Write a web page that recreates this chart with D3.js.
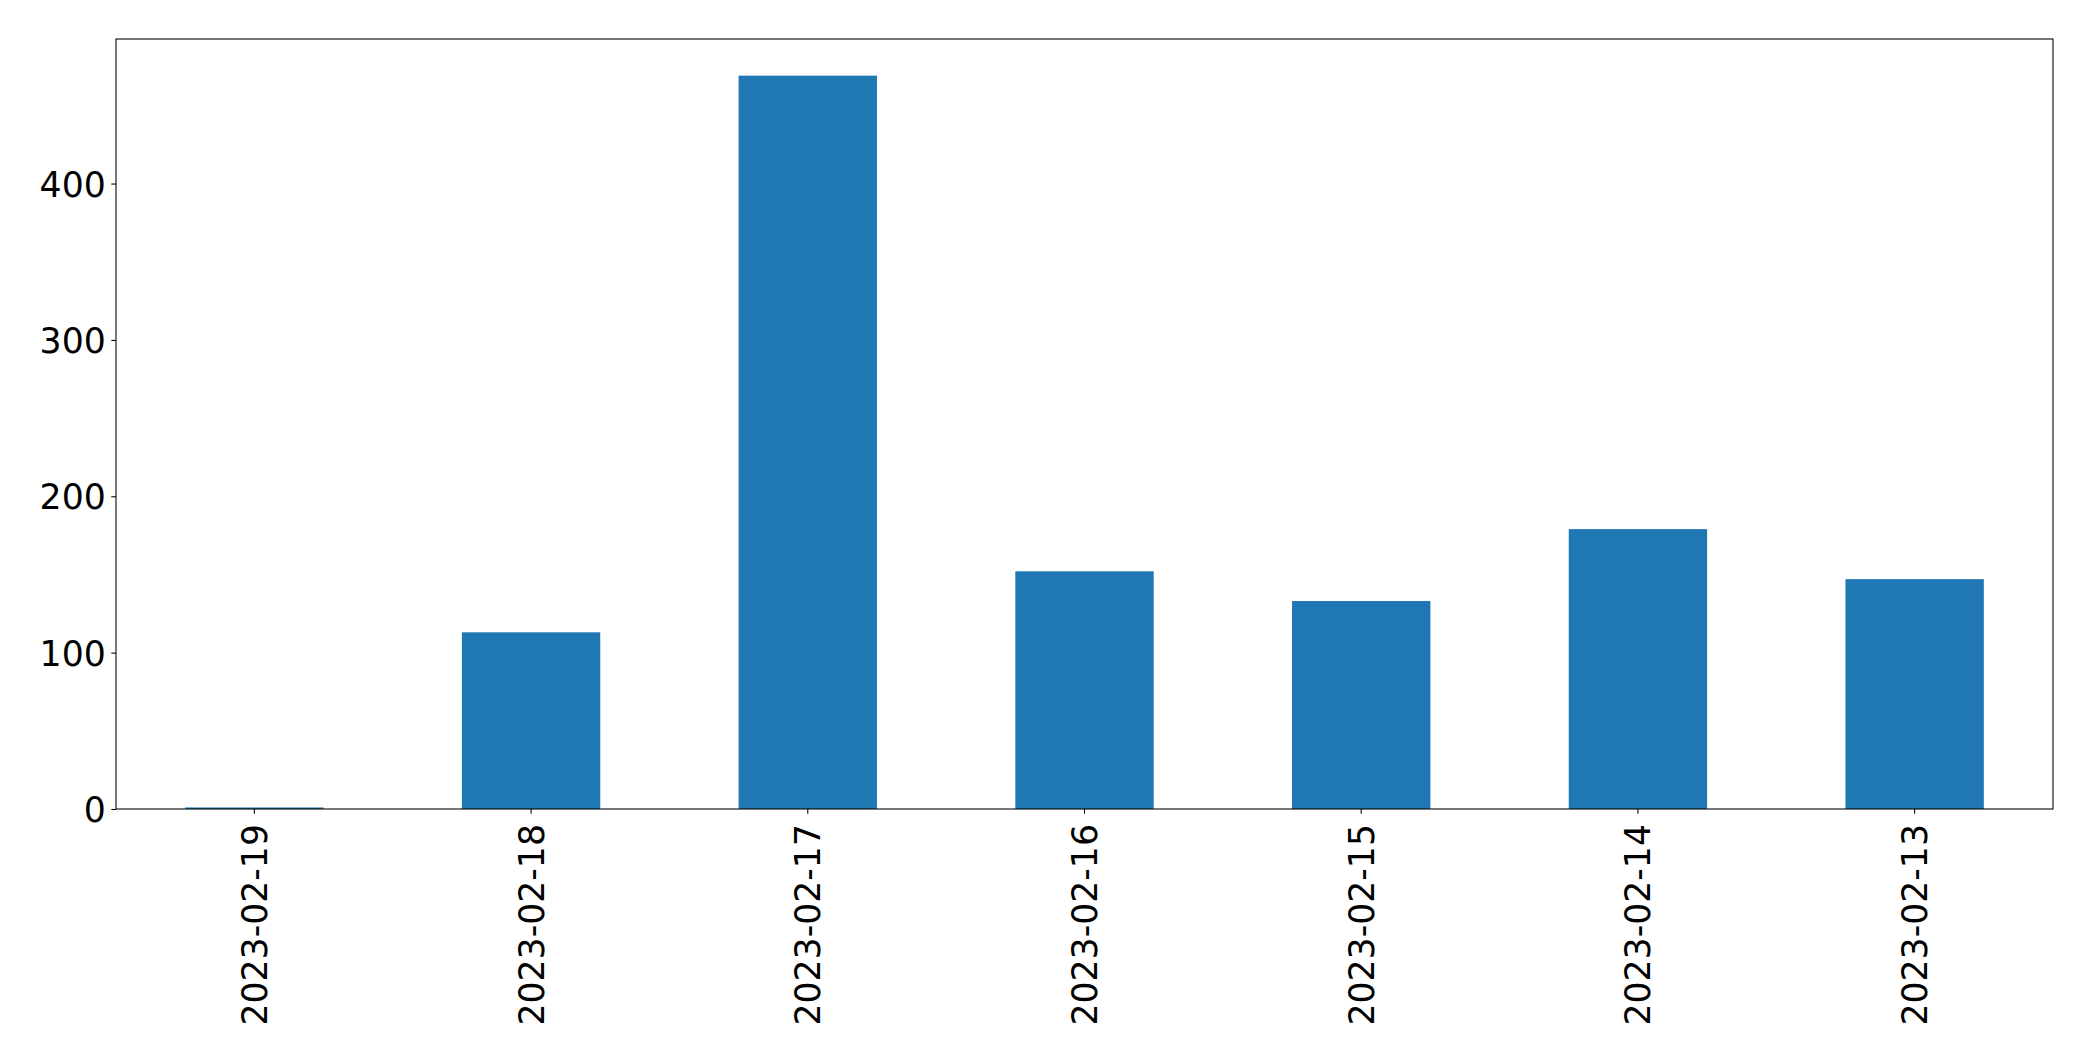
<!DOCTYPE html>
<html>
<head>
<meta charset="utf-8">
<script src="https://cdn.jsdelivr.net/npm/d3@7"></script>
<style>
  html, body { margin: 0; padding: 0; background: #ffffff; }
  svg { display: block; }
  .tick text { font-family: "DejaVu Sans", sans-serif; font-size: 34.7px; fill: #000; }
</style>
</head>
<body>
<svg id="chart" width="2093" height="1061"></svg>
<script>
const categories = ["2023-02-19", "2023-02-18", "2023-02-17", "2023-02-16", "2023-02-15", "2023-02-14", "2023-02-13"];
const values = [1, 113, 469, 152, 133, 179, 147];
const yTicks = [0, 100, 200, 300, 400];

const W = 2093, H = 1061;
const margin = { left: 116, right: W - 2053, top: 39, bottom: H - 809 };
const pw = W - margin.left - margin.right;
const ph = H - margin.top - margin.bottom;

const svg = d3.select("#chart");
svg.append("rect").attr("x", 0).attr("y", 0).attr("width", W).attr("height", H).attr("fill", "#fff");

const g = svg.append("g").attr("transform", `translate(${margin.left},${margin.top})`);

const x = d3.scaleBand()
  .domain(categories)
  .range([0, pw])
  .paddingInner(0.5)
  .paddingOuter(0.25);

const y = d3.scaleLinear()
  .domain([0, d3.max(values) * 1.05])
  .range([ph, 0]);

g.selectAll("rect.bar")
  .data(categories.map((c, i) => ({ c, v: values[i] })))
  .enter().append("rect")
  .attr("class", "bar")
  .attr("x", d => x(d.c))
  .attr("width", x.bandwidth())
  .attr("y", d => y(d.v))
  .attr("height", d => y(0) - y(d.v))
  .attr("fill", "#1f77b4");

const tickLen = 4.7;

const yAxis = g.append("g")
  .call(d3.axisLeft(y).tickValues(yTicks).tickFormat(d3.format("d")).tickSize(tickLen).tickPadding(5.5));
yAxis.select(".domain").remove();
yAxis.selectAll(".tick line").attr("stroke", "#000").attr("stroke-width", 1.07);
yAxis.selectAll(".tick text").attr("dy", "0.36em");

const xAxis = g.append("g")
  .attr("transform", `translate(0,${ph})`)
  .call(d3.axisBottom(x).tickSize(tickLen).tickPadding(0));
xAxis.select(".domain").remove();
xAxis.selectAll(".tick line").attr("stroke", "#000").attr("stroke-width", 1.07);
xAxis.selectAll(".tick text")
  .attr("text-anchor", "end")
  .attr("x", 0)
  .attr("y", 0)
  .attr("dy", "0.36em")
  .attr("transform", "translate(0,15) rotate(-90)");

// frame (spines)
g.append("rect")
  .attr("x", 0).attr("y", 0)
  .attr("width", pw).attr("height", ph)
  .attr("fill", "none")
  .attr("stroke", "#000")
  .attr("stroke-width", 1.07);
</script>
</body>
</html>
